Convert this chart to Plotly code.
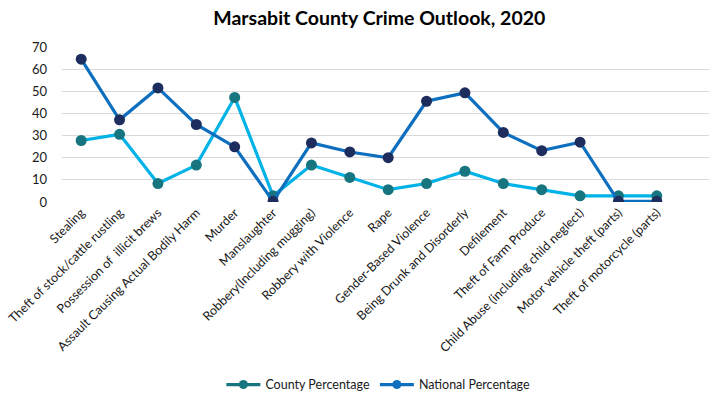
import plotly.graph_objects as go

categories = [
    "Stealing", "Theft of stock/cattle rustling", "Possession of  illicit brews",
    "Assault Causing Actual Bodily Harm", "Murder", "Manslaughter",
    "Robbery(Including mugging)", "Robbery with Violence", "Rape",
    "Gender-Based Violence", "Being Drunk and Disorderly", "Defilement",
    "Theft of Farm Produce", "Child Abuse (including child neglect)",
    "Motor vehicle theft (parts)", "Theft of motorcycle (parts)",
]
county = [27.78, 30.56, 8.33, 16.67, 47.22, 2.78, 16.67, 11.11, 5.56, 8.33,
          13.89, 8.33, 5.56, 2.78, 2.78, 2.78]
national = [64.5, 37.1, 51.5, 35.0, 24.9, 0.3, 26.7, 22.6, 20.0, 45.5,
            49.3, 31.4, 23.2, 27.0, 0.3, 0.3]
y_ticks = [0, 10, 20, 30, 40, 50, 60, 70]

FONT = "Lato"
idx = list(range(len(categories)))

fig = go.Figure()
fig.add_trace(go.Scatter(
    x=idx, y=county, mode="lines+markers", name="County Percentage",
    line=dict(color="#00B2E6", width=3.2),
    marker=dict(color="#17757F", size=11), showlegend=False))
fig.add_trace(go.Scatter(
    x=idx, y=national, mode="lines+markers", name="National Percentage",
    line=dict(color="#0D6FBE", width=3.2),
    marker=dict(color="#1C2D5E", size=11), showlegend=False))
# legend entries (Excel-style legend colours)
fig.add_trace(go.Scatter(
    x=[None], y=[None], mode="lines+markers", name="County Percentage",
    line=dict(color="#17757F", width=3.2), marker=dict(color="#17757F", size=9)))
fig.add_trace(go.Scatter(
    x=[None], y=[None], mode="lines+markers", name="National Percentage",
    line=dict(color="#0D6FBE", width=3.2), marker=dict(color="#0D6FBE", size=9)))

fig.update_layout(
    width=709, height=393,
    margin=dict(l=62, r=0, t=47, b=191, autoexpand=False),
    paper_bgcolor="white", plot_bgcolor="white",
    font=dict(family=FONT, size=12.5, color="#1a1a1a"),
    title=dict(text="<b>Marsabit County Crime Outlook, 2020</b>",
               x=0.535, xanchor="center", y=0.953, yanchor="middle",
               font=dict(family=FONT, size=19.5, color="#000000")),
    showlegend=True,
    legend=dict(orientation="h", x=0.489, xanchor="center", y=-1.18,
                yanchor="middle", font=dict(family=FONT, size=12.5, color="#1a1a1a"),
                itemwidth=34, tracegroupgap=0),
    xaxis=dict(range=[-0.5, 16.36], tickmode="array", tickvals=idx,
               ticktext=categories, tickangle=-45, showgrid=False,
               zeroline=False, showline=False, ticks="", automargin=False,
               tickfont=dict(family=FONT, size=12.5, color="#1a1a1a")),
    yaxis=dict(range=[0, 70], tickmode="array", tickvals=y_ticks,
               showgrid=True, gridcolor="#D9D9D9", gridwidth=1,
               zeroline=False, showline=False, ticks="", automargin=False,
               ticklabelstandoff=14,
               tickfont=dict(family=FONT, size=13, color="#1a1a1a")),
)

fig.write_html("out.html")
